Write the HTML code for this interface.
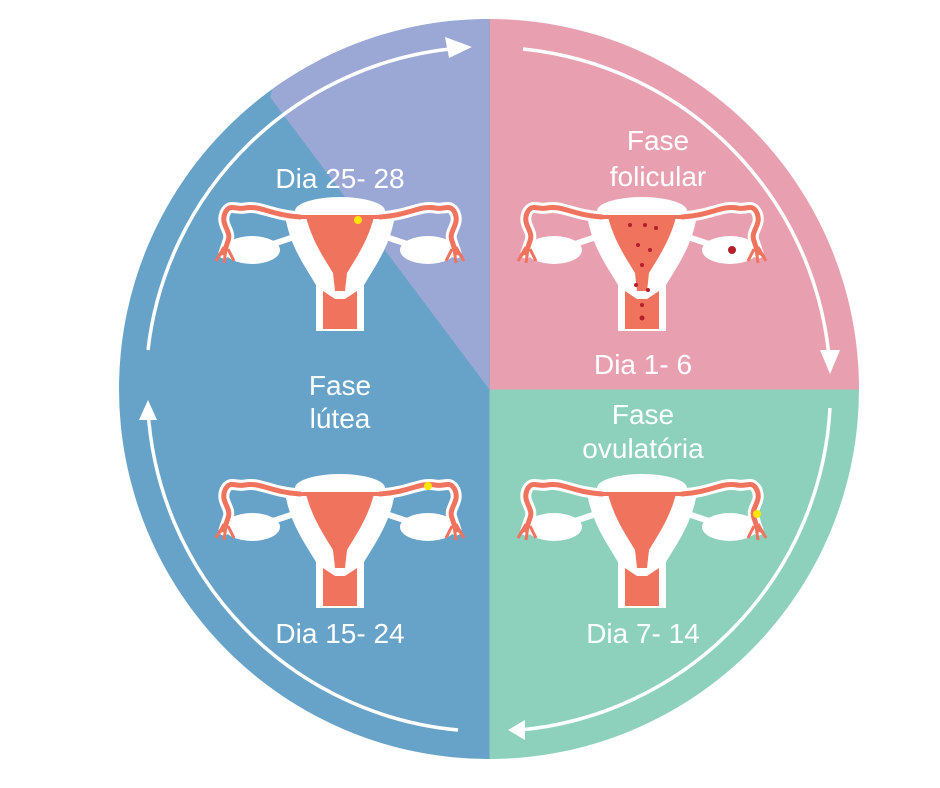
<!DOCTYPE html>
<html><head><meta charset="utf-8"><style>
html,body{margin:0;padding:0;background:#fff;}
svg{display:block;}
text{font-family:"Liberation Sans",sans-serif;fill:#fff;font-size:28px;text-anchor:middle;}
</style></head><body>
<svg width="940" height="788" viewBox="0 0 940 788" xmlns="http://www.w3.org/2000/svg">
<defs>
<clipPath id="c"><circle cx="489" cy="389" r="370"/></clipPath>
<g id="ut">
  <path d="M-40 22 C-70 20 -80 10 -95 13 C-105 15 -110 8 -115 18 C-120 30 -108 36 -112 46 L-116 58" fill="none" stroke="#fff" stroke-width="11" stroke-linecap="round"/>
  <path d="M40 22 C70 20 80 10 95 13 C105 15 110 8 115 18 C120 30 108 36 112 46 L116 58" fill="none" stroke="#fff" stroke-width="11" stroke-linecap="round"/>
  <path d="M-40 40 L-85 55 M40 40 L85 55" stroke="#fff" stroke-width="6"/>
  <ellipse cx="-88" cy="55" rx="28" ry="14" fill="#fff"/>
  <ellipse cx="88" cy="55" rx="28" ry="14" fill="#fff"/>
  <ellipse cx="0" cy="16" rx="45" ry="14" fill="#fff"/>
  <path d="M-55 20 L55 20 C52 40 45 55 35 72 L24 90 L24 136 L-24 136 L-24 90 L-35 72 C-45 55 -52 40 -55 20 Z" fill="#fff"/>
  <path d="M-40 22 C-70 20 -80 10 -95 13 C-105 15 -110 8 -115 18 C-120 30 -108 36 -112 46 L-116 58" fill="none" stroke="#f0735e" stroke-width="5" stroke-linecap="round"/>
  <path d="M40 22 C70 20 80 10 95 13 C105 15 110 8 115 18 C120 30 108 36 112 46 L116 58" fill="none" stroke="#f0735e" stroke-width="5" stroke-linecap="round"/>
  <path d="M-45 22 L45 22" stroke="#f0735e" stroke-width="4"/>
  <path d="M-116 52 L-124 66 M-114 54 L-116 68 M-112 54 L-106 66 M-115 55 L-122 62" stroke="#f0735e" stroke-width="3"/>
  <path d="M116 52 L124 66 M114 54 L116 68 M112 54 L106 66 M115 55 L122 62" stroke="#f0735e" stroke-width="3"/>
  <path d="M-34 22 L34 22 C28 45 18 60 7 78 L5 96 L-5 96 L-7 78 C-18 60 -28 45 -34 22 Z" fill="#f0735e"/>
  <path d="M-17 96 L-5 104 L5 104 L17 96 L17 134 L-17 134 Z" fill="#f0735e"/>
</g>
</defs>
<g clip-path="url(#c)">
  <rect x="100" y="0" width="389.5" height="788" fill="#67a2c8"/>
  <polygon points="489,389 270,97 300,0 489,0" fill="#9ba7d5"/>
  <rect x="489.5" y="0" width="400" height="389.5" fill="#e8a0b0"/>
  <rect x="489.5" y="389.5" width="400" height="400" fill="#8dd1bd"/>
</g>
<g fill="none" stroke="#fff" stroke-width="3.5">
  <path d="M523 49 A342 342 0 0 1 830 370"/>
  <path d="M830 408 A342 342 0 0 1 520 730"/>
  <path d="M458 730 A342 342 0 0 1 148 410"/>
  <path d="M148 350 A342 342 0 0 1 460 48"/>
</g>
<g fill="#fff">
  <polygon points="820,350 840,350 830,374"/>
  <polygon points="525,720 525,740 508,730"/>
  <polygon points="139,420 157,420 148,400"/>
  <polygon points="445,37 449,58 472,47"/>
</g>
<use href="#ut" x="642" y="195"/>
<use href="#ut" x="340" y="195"/>
<use href="#ut" x="340" y="472"/>
<use href="#ut" x="642" y="472"/>
<g fill="#b3202a">
  <circle cx="732" cy="250" r="4"/>
  <circle cx="642" cy="318" r="2.5"/>
  <circle cx="630" cy="225" r="2"/><circle cx="645" cy="225" r="2"/><circle cx="656" cy="228" r="2"/>
  <circle cx="638" cy="245" r="2"/><circle cx="650" cy="250" r="2"/><circle cx="642" cy="265" r="2"/>
  <circle cx="636" cy="285" r="2"/><circle cx="648" cy="290" r="2"/><circle cx="642" cy="305" r="2"/>
</g>
<circle cx="358" cy="220" r="4" fill="#ffe600"/>
<circle cx="428" cy="486" r="4" fill="#ffe600"/>
<circle cx="757" cy="514" r="4" fill="#ffe600"/>
<text x="658" y="150">Fase</text>
<text x="658" y="186">folicular</text>
<text x="643" y="374">Dia 1- 6</text>
<text x="643" y="424">Fase</text>
<text x="643" y="458">ovulatória</text>
<text x="643" y="643">Dia 7- 14</text>
<text x="340" y="188">Dia 25- 28</text>
<text x="340" y="395">Fase</text>
<text x="340" y="428">lútea</text>
<text x="340" y="643">Dia 15- 24</text>
</svg>
</body></html>
